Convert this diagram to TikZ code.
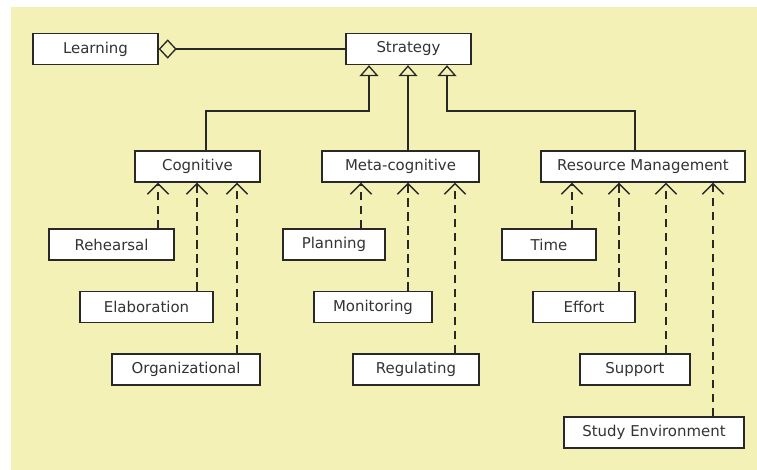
\documentclass[tikz,border=0pt]{standalone}
\usepackage{fontspec}
\setmainfont{DejaVu Sans}
\usetikzlibrary{arrows.meta}
\definecolor{bgyel}{RGB}{243,241,181}
\definecolor{ln}{RGB}{40,40,40}
\begin{document}
\begin{tikzpicture}[x=0.75pt,y=-0.75pt,
  box/.style={draw=ln,fill=white,line width=1pt,minimum height=23.25pt,inner sep=0pt,
    font=\fontsize{11.2}{13}\selectfont,text=black!80},
  gen/.style={draw=ln,line width=1pt,-{Triangle[fill=bgyel,length=8.25pt,width=14.25pt,line width=1pt]}},
  dep/.style={draw=ln,line width=1pt,dash pattern=on 6.5pt off 4pt,-{Straight Barb[length=8pt,width=16pt,line width=1pt]}},
  agg/.style={draw=ln,line width=1pt,-{Diamond[fill=bgyel,length=13.5pt,width=14.5pt,line width=1pt]}}]
\useasboundingbox (0,0) rectangle (757,470);
\fill[white] (0,0) rectangle (757,470);
\fill[bgyel] (11,7) rectangle (757,470);
% nodes
\node[box,minimum width=93.75pt] (learning) at (95.5,49) {Learning};
\node[box,minimum width=93.75pt] (strategy) at (408.5,49) {Strategy};
\node[box,minimum width=93.75pt] (cog) at (197.5,166.5) {Cognitive};
\node[box,minimum width=117.75pt] (meta) at (400.5,166.5) {Meta-cognitive};
\node[box,minimum width=153pt] (rm) at (643,166.5) {Resource Management};
\node[box,minimum width=93.75pt] (reh) at (111.5,244.5) {Rehearsal};
\node[box,minimum width=99.75pt] (ela) at (146.5,307) {Elaboration};
\node[box,minimum width=111pt] (org) at (186,369.5) {Organizational};
\node[box,minimum width=76.5pt] (pla) at (334,244.5) {Planning};
\node[box,minimum width=88.5pt] (mon) at (373,307) {Monitoring};
\node[box,minimum width=94.5pt] (reg) at (416,369.5) {Regulating};
\node[box,minimum width=70.5pt] (tim) at (549,244.5) {Time};
\node[box,minimum width=76.5pt] (eff) at (584,307) {Effort};
\node[box,minimum width=82.5pt] (sup) at (635,369.5) {Support};
\node[box,minimum width=135pt] (stu) at (654,432.5) {Study Environment};
% aggregation
\draw[agg] (strategy.west) -- (learning.east);
% generalisations
\coordinate (gx1) at (206,111);
\coordinate (gx3) at (635,111);
\draw[gen] (cog.north -| gx1) -- (gx1) -| (strategy.south -| 369,0);
\draw[gen] (meta.north -| 408,0) -- (strategy.south -| 408,0);
\draw[gen] (rm.north -| gx3) -- (gx3) -| (strategy.south -| 447,0);
% dependencies
\draw[dep] (reh.north -| 158,0) -- (cog.south -| 158,0);
\draw[dep] (ela.north -| 197,0) -- (cog.south -| 197,0);
\draw[dep] (org.north -| 237,0) -- (cog.south -| 237,0);
\draw[dep] (pla.north -| 361,0) -- (meta.south -| 361,0);
\draw[dep] (mon.north -| 408,0) -- (meta.south -| 408,0);
\draw[dep] (reg.north -| 455,0) -- (meta.south -| 455,0);
\draw[dep] (tim.north -| 572,0) -- (rm.south -| 572,0);
\draw[dep] (eff.north -| 619,0) -- (rm.south -| 619,0);
\draw[dep] (sup.north -| 666,0) -- (rm.south -| 666,0);
\draw[dep] (stu.north -| 713,0) -- (rm.south -| 713,0);
\end{tikzpicture}
\end{document}
